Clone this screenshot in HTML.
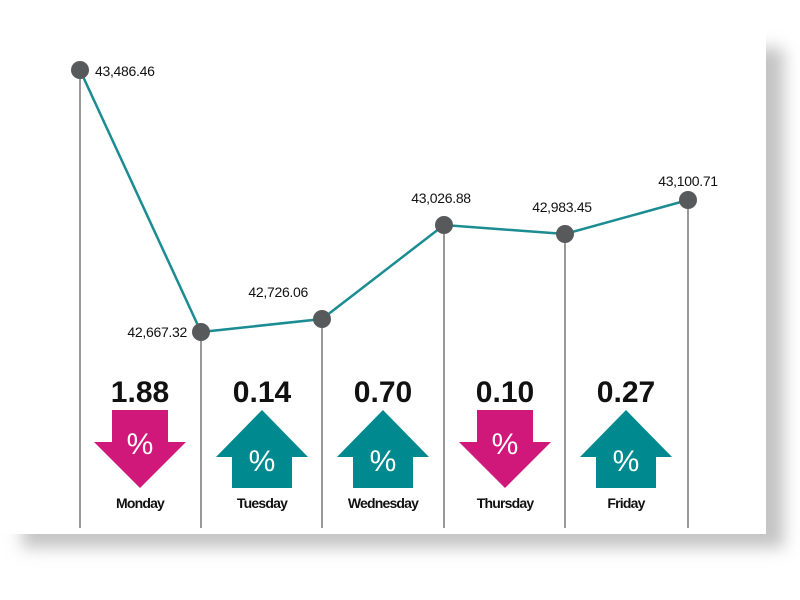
<!DOCTYPE html>
<html><head><meta charset="utf-8"><style>
html,body{margin:0;padding:0;background:#fff;}
</style></head><body>
<svg width="800" height="600" xmlns="http://www.w3.org/2000/svg" style="display:block">
<defs>
<filter id="sh" x="-10%" y="-10%" width="130%" height="130%"><feGaussianBlur stdDeviation="8"/></filter>
</defs>
<rect x="22" y="48" width="762" height="500" fill="#c4c4c4" filter="url(#sh)"/>
<rect x="0" y="0" width="766" height="534" fill="#fff"/>
<g stroke="#555" stroke-width="1.2">
<line x1="80" y1="70" x2="80" y2="528"/>
<line x1="201" y1="332" x2="201" y2="528"/>
<line x1="322" y1="319" x2="322" y2="528"/>
<line x1="444" y1="225" x2="444" y2="528"/>
<line x1="565" y1="234" x2="565" y2="528"/>
<line x1="688" y1="200" x2="688" y2="528"/>
</g>
<polyline points="80,70 201,332 322,319 444,225 565,234 688,200" fill="none" stroke="#1a8c92" stroke-width="2.5"/>
<g fill="#58595b">
<circle cx="80" cy="70" r="9"/><circle cx="201" cy="332" r="9"/><circle cx="322" cy="319" r="9"/>
<circle cx="444" cy="225" r="9"/><circle cx="565" cy="234" r="9"/><circle cx="688" cy="200" r="9"/>
</g>
<g font-family="Liberation Sans, sans-serif" font-size="14" fill="#111" letter-spacing="-0.3">
<text x="95" y="76">43,486.46</text>
<text x="187" y="337" text-anchor="end">42,667.32</text>
<text x="308" y="297" text-anchor="end">42,726.06</text>
<text x="441" y="203" text-anchor="middle">43,026.88</text>
<text x="562" y="212" text-anchor="middle">42,983.45</text>
<text x="688" y="186" text-anchor="middle">43,100.71</text>
</g>
<g font-family="Liberation Sans, sans-serif" font-weight="bold" font-size="30" fill="#111" text-anchor="middle">
<text x="140" y="402">1.88</text>
<text x="262" y="402">0.14</text>
<text x="383" y="402">0.70</text>
<text x="505" y="402">0.10</text>
<text x="626" y="402">0.27</text>
</g>
<g fill="#d0177a">
<polygon points="112,410 168,410 168,442 186,442 140,488 94,442 112,442"/>
<polygon points="477,410 533,410 533,442 551,442 505,488 459,442 477,442"/>
</g>
<g fill="#008a90">
<polygon points="262,410 308,457 292,457 292,488 232,488 232,457 216,457"/>
<polygon points="383,410 429,457 413,457 413,488 353,488 353,457 337,457"/>
<polygon points="626,410 672,457 656,457 656,488 596,488 596,457 580,457"/>
</g>
<g font-family="Liberation Sans, sans-serif" font-size="30" fill="#fff" text-anchor="middle">
<text x="140" y="454">%</text>
<text x="262" y="471">%</text>
<text x="383" y="471">%</text>
<text x="505" y="454">%</text>
<text x="626" y="471">%</text>
</g>
<g font-family="Liberation Sans, sans-serif" font-weight="bold" font-size="14" fill="#111" text-anchor="middle" letter-spacing="-0.8">
<text x="140" y="508">Monday</text>
<text x="262" y="508">Tuesday</text>
<text x="383" y="508">Wednesday</text>
<text x="505" y="508">Thursday</text>
<text x="626" y="508">Friday</text>
</g>
</svg>
</body></html>
